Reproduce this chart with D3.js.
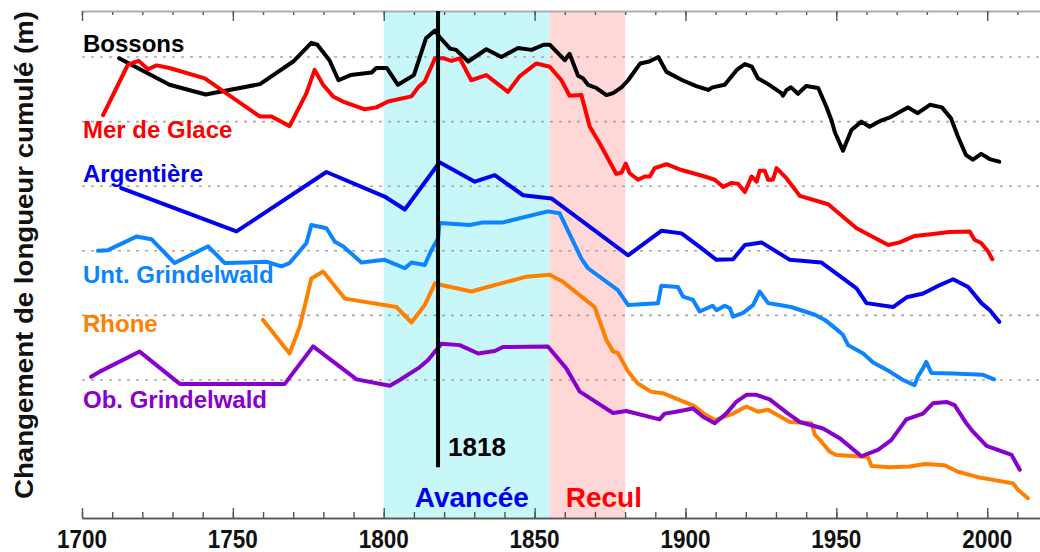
<!DOCTYPE html>
<html><head><meta charset="utf-8">
<script src="https://cdn.jsdelivr.net/npm/d3@7"></script>
<style>
html,body{margin:0;padding:0;background:#fff;}
svg{display:block;font-family:Arial,"Liberation Sans",sans-serif;font-weight:bold;}
</style></head>
<body>
<svg id="c" width="1040" height="552"></svg>
<script>
// ---- data (x: year, y: relative cumulative length change, in grid units) ----
const tickYears = [1700, 1750, 1800, 1850, 1900, 1950, 2000];
const gridValues = [0, -1, -2, -3, -4, -5];
const phases = [
  {name: "Avancée", start: 1800, end: 1855, fill: "#c8f7fa", color: "#0000ee"},
  {name: "Recul", start: 1855, end: 1880, fill: "#ffd7d7", color: "#ff0000"}
];
const markerYear = 1818;

const bossons = [[1712.3,-0.02],[1729,-0.43],[1741,-0.58],[1759,-0.42],[1770,-0.07],[1776,0.22],[1778,0.19],[1782,-0.05],[1785,-0.36],[1789,-0.28],[1796,-0.24],[1797.5,-0.17],[1801,-0.17],[1804.7,-0.43],[1810,-0.28],[1814,0.29],[1817,0.41],[1818.5,0.31],[1822,0.13],[1824,0.11],[1828,-0.07],[1834,0.12],[1839,0.0],[1844.5,0.14],[1849,0.11],[1853,0.19],[1855,0.19],[1860,-0.05],[1861.6,0.05],[1864.4,-0.29],[1866,-0.33],[1867.7,-0.43],[1870.5,-0.48],[1873.8,-0.59],[1876,-0.56],[1878.8,-0.47],[1881,-0.36],[1885,-0.10],[1888,-0.07],[1891,0.0],[1893.7,-0.23],[1899,-0.36],[1903.6,-0.45],[1907.5,-0.51],[1909,-0.47],[1913,-0.43],[1917,-0.20],[1919.7,-0.11],[1922,-0.15],[1924,-0.33],[1927.4,-0.42],[1931.8,-0.56],[1932.3,-0.60],[1933.5,-0.51],[1935,-0.47],[1937.3,-0.57],[1940,-0.45],[1944,-0.48],[1946.7,-0.77],[1948.4,-0.98],[1949.5,-1.16],[1952.2,-1.45],[1955,-1.13],[1958.3,-1.00],[1961,-1.08],[1965,-0.98],[1968,-0.93],[1973.7,-0.78],[1977,-0.87],[1981,-0.74],[1985,-0.78],[1988,-0.95],[1990.3,-1.23],[1993,-1.52],[1995.3,-1.59],[1998,-1.50],[2000.8,-1.58],[2004,-1.62]];

const merDeGlace = [[1707,-0.90],[1715.2,-0.12],[1718.8,-0.06],[1721.9,-0.19],[1724.7,-0.13],[1729,-0.17],[1740.7,-0.33],[1758.9,-0.92],[1762.8,-0.92],[1768.8,-1.07],[1774.4,-0.56],[1777.1,-0.20],[1779.9,-0.43],[1783.2,-0.61],[1786.5,-0.69],[1793.7,-0.81],[1797.6,-0.78],[1801.4,-0.69],[1809.2,-0.61],[1811.4,-0.47],[1813.6,-0.38],[1817,-0.02],[1820,-0.02],[1822.4,-0.06],[1825.2,-0.02],[1829,-0.36],[1834,-0.28],[1841.2,-0.54],[1845,-0.30],[1850.6,-0.10],[1855,-0.15],[1858.9,-0.36],[1861.6,-0.60],[1865.5,-0.59],[1868.3,-1.08],[1871.6,-1.34],[1877.1,-1.81],[1878.8,-1.79],[1880.2,-1.65],[1881.5,-1.80],[1884.3,-1.90],[1886.5,-1.85],[1888.2,-1.85],[1889.8,-1.72],[1893.7,-1.66],[1898.7,-1.75],[1906.4,-1.85],[1909.7,-1.90],[1912.5,-2.01],[1915.2,-1.95],[1917.4,-1.96],[1919.7,-2.09],[1921.9,-1.85],[1923.6,-1.93],[1924.6,-1.76],[1926.3,-1.76],[1927.4,-1.90],[1929,-1.90],[1930.2,-1.72],[1933.5,-1.88],[1937.9,-2.15],[1947.3,-2.28],[1956.7,-2.65],[1967.2,-2.91],[1971,-2.87],[1976,-2.77],[1982,-2.74],[1987.5,-2.71],[1994.2,-2.70],[1995.8,-2.83],[1998,-2.88],[2000.3,-3.01],[2001.7,-3.13]];

const argentiere = [[1713,-2.03],[1751.2,-2.70],[1781,-1.78],[1800.3,-2.16],[1807,-2.36],[1818.5,-1.63],[1830.2,-1.93],[1836.8,-1.83],[1846.2,-2.14],[1855.6,-2.19],[1881,-3.07],[1892,-2.69],[1898.7,-2.73],[1904.7,-2.94],[1910.3,-3.14],[1915.8,-3.13],[1919.7,-2.91],[1925.2,-2.87],[1934.6,-3.14],[1945,-3.18],[1956.7,-3.58],[1960,-3.81],[1968.8,-3.87],[1973.3,-3.72],[1978.8,-3.66],[1984.3,-3.53],[1988.7,-3.44],[1993.7,-3.56],[1998.1,-3.81],[2000.9,-3.92],[2004,-4.10]];

const untGrindelwald = [[1705.3,-3.00],[1708.6,-2.99],[1718,-2.78],[1723,-2.82],[1730.7,-3.19],[1741.8,-2.93],[1747.3,-3.19],[1754.5,-3.18],[1761.1,-3.17],[1766.1,-3.24],[1768.8,-3.19],[1774.4,-2.88],[1776,-2.60],[1781,-2.65],[1783.8,-2.86],[1786.5,-2.93],[1792.6,-3.18],[1800.3,-3.14],[1807,-3.27],[1809.2,-3.18],[1813.6,-3.22],[1815.8,-2.99],[1818,-2.81],[1818.5,-2.57],[1828.5,-2.60],[1832.9,-2.56],[1839.5,-2.56],[1854.4,-2.39],[1858.3,-2.42],[1865.5,-3.12],[1867.7,-3.27],[1877.6,-3.61],[1881,-3.84],[1890.9,-3.81],[1892,-3.54],[1897.5,-3.56],[1899.2,-3.71],[1902.5,-3.76],[1904.7,-3.94],[1909,-3.85],[1910.3,-3.92],[1913,-3.85],[1914.7,-3.89],[1915.8,-4.02],[1919.1,-3.96],[1922.4,-3.84],[1924.6,-3.63],[1927.4,-3.81],[1931.2,-3.84],[1935,-3.87],[1942.9,-3.99],[1946.2,-4.07],[1948.9,-4.17],[1952.2,-4.30],[1953.9,-4.46],[1958.9,-4.59],[1962.2,-4.73],[1967.7,-4.87],[1972.1,-5.00],[1975.9,-5.08],[1977,-4.95],[1978.7,-4.82],[1979.8,-4.72],[1981.5,-4.89],[1988.7,-4.90],[1998.6,-4.92],[2002.3,-4.99]];

const rhone = [[1760,-4.07],[1768.8,-4.59],[1772.2,-4.17],[1776,-3.43],[1779.9,-3.32],[1787.1,-3.74],[1804.2,-3.87],[1809.2,-4.11],[1813.6,-3.84],[1817,-3.50],[1819.1,-3.53],[1829.1,-3.63],[1832.9,-3.58],[1847.3,-3.40],[1855,-3.37],[1859.4,-3.48],[1869.9,-3.87],[1873.8,-4.38],[1876,-4.56],[1877.6,-4.58],[1881,-4.87],[1884.1,-5.05],[1888.5,-5.18],[1892.9,-5.21],[1902.8,-5.40],[1906.1,-5.52],[1909.7,-5.62],[1915.8,-5.52],[1920.2,-5.41],[1924,-5.49],[1927.4,-5.46],[1934.6,-5.65],[1941.8,-5.67],[1942.9,-5.85],[1944.6,-5.93],[1947.8,-6.11],[1950,-6.16],[1960.5,-6.19],[1961.6,-6.33],[1967.7,-6.35],[1974.3,-6.34],[1979.3,-6.30],[1985.9,-6.32],[1990.3,-6.42],[1997.5,-6.51],[2008.6,-6.60],[2010.2,-6.70],[2013.5,-6.83]];

const obGrindelwald = [[1703,-4.95],[1705.9,-4.87],[1719.1,-4.56],[1732.4,-5.06],[1767.2,-5.06],[1776.6,-4.48],[1791,-4.99],[1802,-5.09],[1805.3,-5.00],[1812,-4.80],[1814.7,-4.69],[1819.1,-4.44],[1825.2,-4.46],[1831.3,-4.59],[1836.8,-4.55],[1839.5,-4.49],[1854.4,-4.48],[1860.5,-4.82],[1865,-5.18],[1876,-5.51],[1880.4,-5.48],[1891.4,-5.61],[1893.1,-5.52],[1896.9,-5.49],[1902.5,-5.44],[1905.8,-5.57],[1909.7,-5.67],[1913.5,-5.52],[1916.8,-5.34],[1920.2,-5.23],[1923.5,-5.23],[1927.9,-5.30],[1934,-5.52],[1937.9,-5.65],[1945.6,-5.75],[1951.1,-5.90],[1958.3,-6.18],[1963.8,-6.08],[1968.2,-5.93],[1973.2,-5.61],[1978.7,-5.52],[1982,-5.36],[1986.5,-5.34],[1989.2,-5.39],[1993.1,-5.67],[1995.3,-5.80],[1999.8,-6.02],[2008.1,-6.16],[2010.8,-6.39]];

const seriesNames = ["Bossons", "Mer de Glace", "Argentière", "Unt. Grindelwald", "Rhone", "Ob. Grindelwald"];
const seriesData = [bossons, merDeGlace, argentiere, untGrindelwald, rhone, obGrindelwald];
const seriesColors = ["#000000", "#ff0000", "#0000ee", "#0a84ff", "#ff8000", "#8800cc"];
const labelValues = [0.08, -1.26, -1.94, -3.5, -4.26, -5.43]; // label baseline levels

// ---- layout ----
const svg = d3.select("#c");
const x = d3.scaleLinear().domain([1700, 2017.5]).range([82, 1040]);
const y = d3.scaleLinear().domain([0.712, -7.136]).range([11, 518]);
const yTop = y.range()[0], yBot = y.range()[1];

// phase shading
svg.selectAll("rect.phase").data(phases).enter().append("rect")
  .attr("x", d => x(d.start)).attr("width", d => x(d.end) - x(d.start))
  .attr("y", yTop).attr("height", yBot - yTop).attr("fill", d => d.fill);

// dotted grid
svg.selectAll("line.grid").data(gridValues).enter().append("line")
  .attr("x1", x(1700)).attr("x2", 1040)
  .attr("y1", d => y(d)).attr("y2", d => y(d))
  .attr("stroke", "#a8a8a8").attr("stroke-width", 1.6).attr("stroke-dasharray", "3,6");

// axes (top and bottom, minor and major ticks)
const minor = d3.range(1700, 2018, 10);
function axisStyle(g, col){
  g.select(".domain").attr("stroke", col).attr("stroke-width", 1.6);
  g.selectAll(".tick line").attr("stroke", "#555").attr("stroke-width", 1.4);
  g.selectAll(".tick text").remove();
}
svg.append("g").attr("transform", `translate(0,${yTop})`)
  .call(d3.axisBottom(x).tickValues(minor).tickSize(4).tickSizeOuter(0).tickFormat(""))
  .call(g => axisStyle(g, "#aaa"));
svg.append("g").attr("transform", `translate(0,${yTop})`)
  .call(d3.axisBottom(x).tickValues(tickYears).tickSize(10).tickSizeOuter(0).tickFormat(""))
  .call(g => axisStyle(g, "#aaa"));
svg.append("g").attr("transform", `translate(0,${yBot})`)
  .call(d3.axisTop(x).tickValues(minor).tickSize(6).tickSizeOuter(0).tickFormat(""))
  .call(g => axisStyle(g, "#555"));
svg.append("g").attr("transform", `translate(0,${yBot})`)
  .call(d3.axisTop(x).tickValues(tickYears).tickSize(10).tickSizeOuter(0).tickFormat(""))
  .call(g => axisStyle(g, "#555"));

// tick labels
svg.selectAll("text.tl").data(tickYears).enter().append("text")
  .attr("transform", d => `translate(${x(d)},548) scale(0.9,1)`)
  .attr("text-anchor", "middle").attr("font-size", 25).attr("fill", "#111")
  .text(d => d);

// y axis title
svg.append("text")
  .attr("transform", "translate(33,255) rotate(-90)")
  .attr("text-anchor", "middle").attr("font-size", 26).attr("fill", "#111")
  .attr("textLength", 488).attr("lengthAdjust", "spacingAndGlyphs")
  .text("Changement de longueur cumulé (m)");

// series lines
const line = d3.line().x(d => x(d[0])).y(d => y(d[1]));
svg.selectAll("path.s").data(seriesData).enter().append("path")
  .attr("d", line).attr("fill", "none")
  .attr("stroke", (d, i) => seriesColors[i]).attr("stroke-width", 4)
  .attr("stroke-linejoin", "round").attr("stroke-linecap", "round");

// series labels
svg.selectAll("text.sl").data(seriesNames).enter().append("text")
  .attr("x", x(1700) + 1).attr("y", (d, i) => y(labelValues[i]))
  .attr("font-size", 24).attr("fill", (d, i) => seriesColors[i])
  .text(d => d);

// 1818 marker
svg.append("line").attr("x1", x(markerYear)).attr("x2", x(markerYear))
  .attr("y1", yTop).attr("y2", y(-6.35))
  .attr("stroke", "#000").attr("stroke-width", 4);
svg.append("text").attr("x", x(markerYear) + 10).attr("y", y(-6.17))
  .attr("font-size", 26).attr("fill", "#000").text(markerYear);

// phase labels
svg.selectAll("text.ph").data(phases).enter().append("text")
  .attr("x", (d, i) => i === 0 ? x(d.start) + 31 : x(d.start) + 16)
  .attr("y", y(-6.97)).attr("font-size", 28).attr("fill", d => d.color)
  .text(d => d.name);
</script>
</body></html>
